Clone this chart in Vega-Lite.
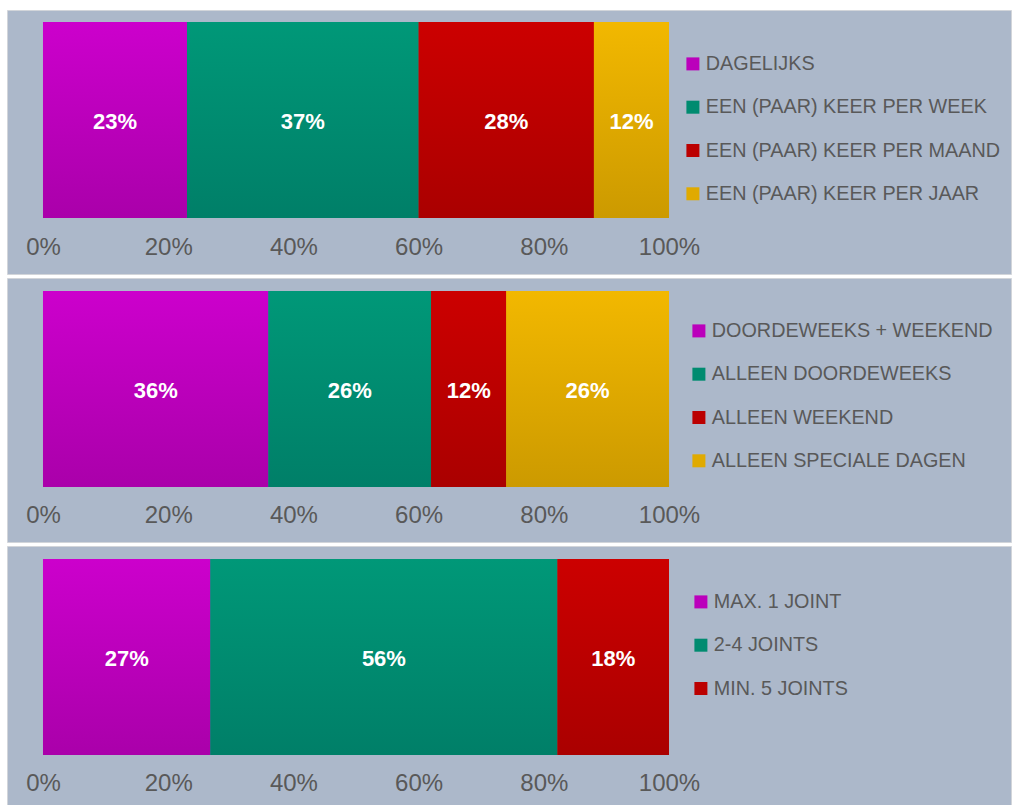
{
  "$schema": "https://vega.github.io/schema/vega-lite/v6.json",
  "background": "white",
  "padding": {"left": 6, "top": 9, "right": 0, "bottom": 0},
  "spacing": 4,
  "bounds": "flush",
  "resolve": {"scale": {"color": "independent"}, "legend": {"color": "independent"}},
  "config": {
    "font": "Liberation Sans",
    "view": {"fill": "#acb8ca", "stroke": "#d2d5da", "strokeWidth": 1},
    "axis": {"domain": false, "ticks": false, "grid": false, "tickSize": 0, "labelPadding": 0, "labelBaseline": "alphabetic", "offset": -20, "labelFontSize": 24, "labelColor": "#595959", "labelFont": "Liberation Sans", "title": null, "labelFlush": false, "labelOverlap": false},
    "legend": {"title": null, "orient": "none", "symbolType": "square", "symbolSize": 169, "symbolStrokeWidth": 0, "labelFontSize": 19.8, "labelColor": "#595959", "labelFont": "Liberation Sans", "labelOffset": 3, "rowPadding": 22.3, "padding": 0, "labelLimit": 500}
  },
  "vconcat": [
    {
      "width": 1004, "height": 264,
      "data": {"values": [
        {"c": "DAGELIJKS", "p": 0.23, "o": 1},
        {"c": "EEN (PAAR) KEER PER WEEK", "p": 0.37, "o": 2},
        {"c": "EEN (PAAR) KEER PER MAAND", "p": 0.28, "o": 3},
        {"c": "EEN (PAAR) KEER PER JAAR", "p": 0.12, "o": 4}
      ]},
      "transform": [
        {"stack": "p", "groupby": [], "sort": [{"field": "o", "order": "ascending"}], "offset": "normalize", "as": ["x0", "x1"]},
        {"calculate": "(datum.x0 + datum.x1) / 2", "as": "xm"}
      ],
      "encoding": {
        "y": {"datum": "bar", "type": "nominal", "axis": null, "scale": {"paddingInner": 0, "paddingOuter": 0.1735, "align": 0.176}},
        "x": {"field": "x0", "type": "quantitative", "scale": {"domain": [-0.0575, 1.5463], "nice": false, "zero": false}, "axis": {"values": [0, 0.2, 0.4, 0.6, 0.8, 1], "format": ".0%"}},
        "x2": {"field": "x1"}
      },
      "layer": [
        {
          "mark": {"type": "bar", "strokeWidth": 0},
          "encoding": {
            "color": {"field": "c", "type": "nominal",
              "scale": {"domain": ["DAGELIJKS", "EEN (PAAR) KEER PER WEEK", "EEN (PAAR) KEER PER MAAND", "EEN (PAAR) KEER PER JAAR"],
                "range": ["#bb00bb", "#008b70", "#bb0000", "#e0aa00"]},
              "legend": {"legendX": 676, "legendY": 44}
            }
          }
        },
        {
          "mark": {"type": "bar", "strokeWidth": 0},
          "encoding": {
            "fill": {
              "condition": [
                {"test": "datum.o === 1", "value": {"gradient": "linear", "x1": 0, "y1": 0, "x2": 0, "y2": 1, "stops": [{"offset": 0, "color": "#cc00cc"}, {"offset": 1, "color": "#aa00aa"}]}},
                {"test": "datum.o === 2", "value": {"gradient": "linear", "x1": 0, "y1": 0, "x2": 0, "y2": 1, "stops": [{"offset": 0, "color": "#009878"}, {"offset": 1, "color": "#007f68"}]}},
                {"test": "datum.o === 3", "value": {"gradient": "linear", "x1": 0, "y1": 0, "x2": 0, "y2": 1, "stops": [{"offset": 0, "color": "#cc0000"}, {"offset": 1, "color": "#aa0000"}]}}
              ],
              "value": {"gradient": "linear", "x1": 0, "y1": 0, "x2": 0, "y2": 1, "stops": [{"offset": 0, "color": "#f2b800"}, {"offset": 1, "color": "#cc9a00"}]}
            }
          }
        },
        {
          "mark": {"type": "text", "color": "white", "fontWeight": "bold", "fontSize": 22, "font": "Liberation Sans", "align": "center", "baseline": "middle", "dy": 2},
          "encoding": {
            "x": {"field": "xm", "type": "quantitative"},
            "x2": null,
            "text": {"field": "p", "type": "quantitative", "format": ".0%"}
          }
        }
      ]
    },
    {
      "width": 1004, "height": 264,
      "data": {"values": [
        {"c": "DOORDEWEEKS + WEEKEND", "p": 0.36, "o": 1},
        {"c": "ALLEEN DOORDEWEEKS", "p": 0.26, "o": 2},
        {"c": "ALLEEN WEEKEND", "p": 0.12, "o": 3},
        {"c": "ALLEEN SPECIALE DAGEN", "p": 0.26, "o": 4}
      ]},
      "transform": [
        {"stack": "p", "groupby": [], "sort": [{"field": "o", "order": "ascending"}], "offset": "normalize", "as": ["x0", "x1"]},
        {"calculate": "(datum.x0 + datum.x1) / 2", "as": "xm"}
      ],
      "encoding": {
        "y": {"datum": "bar", "type": "nominal", "axis": null, "scale": {"paddingInner": 0, "paddingOuter": 0.1735, "align": 0.19}},
        "x": {"field": "x0", "type": "quantitative", "scale": {"domain": [-0.0575, 1.5463], "nice": false, "zero": false}, "axis": {"values": [0, 0.2, 0.4, 0.6, 0.8, 1], "format": ".0%"}},
        "x2": {"field": "x1"}
      },
      "layer": [
        {
          "mark": {"type": "bar", "strokeWidth": 0},
          "encoding": {
            "color": {"field": "c", "type": "nominal",
              "scale": {"domain": ["DOORDEWEEKS + WEEKEND", "ALLEEN DOORDEWEEKS", "ALLEEN WEEKEND", "ALLEEN SPECIALE DAGEN"],
                "range": ["#bb00bb", "#008b70", "#bb0000", "#e0aa00"]},
              "legend": {"legendX": 682, "legendY": 43}
            }
          }
        },
        {
          "mark": {"type": "bar", "strokeWidth": 0},
          "encoding": {
            "fill": {
              "condition": [
                {"test": "datum.o === 1", "value": {"gradient": "linear", "x1": 0, "y1": 0, "x2": 0, "y2": 1, "stops": [{"offset": 0, "color": "#cc00cc"}, {"offset": 1, "color": "#aa00aa"}]}},
                {"test": "datum.o === 2", "value": {"gradient": "linear", "x1": 0, "y1": 0, "x2": 0, "y2": 1, "stops": [{"offset": 0, "color": "#009878"}, {"offset": 1, "color": "#007f68"}]}},
                {"test": "datum.o === 3", "value": {"gradient": "linear", "x1": 0, "y1": 0, "x2": 0, "y2": 1, "stops": [{"offset": 0, "color": "#cc0000"}, {"offset": 1, "color": "#aa0000"}]}}
              ],
              "value": {"gradient": "linear", "x1": 0, "y1": 0, "x2": 0, "y2": 1, "stops": [{"offset": 0, "color": "#f2b800"}, {"offset": 1, "color": "#cc9a00"}]}
            }
          }
        },
        {
          "mark": {"type": "text", "color": "white", "fontWeight": "bold", "fontSize": 22, "font": "Liberation Sans", "align": "center", "baseline": "middle", "dy": 2},
          "encoding": {
            "x": {"field": "xm", "type": "quantitative"},
            "x2": null,
            "text": {"field": "p", "type": "quantitative", "format": ".0%"}
          }
        }
      ]
    },
    {
      "width": 1004, "height": 264,
      "data": {"values": [
        {"c": "MAX. 1 JOINT", "p": 0.27, "o": 1},
        {"c": "2-4 JOINTS", "p": 0.56, "o": 2},
        {"c": "MIN. 5 JOINTS", "p": 0.18, "o": 3}
      ]},
      "transform": [
        {"stack": "p", "groupby": [], "sort": [{"field": "o", "order": "ascending"}], "offset": "normalize", "as": ["x0", "x1"]},
        {"calculate": "(datum.x0 + datum.x1) / 2", "as": "xm"}
      ],
      "encoding": {
        "y": {"datum": "bar", "type": "nominal", "axis": null, "scale": {"paddingInner": 0, "paddingOuter": 0.1735, "align": 0.19}},
        "x": {"field": "x0", "type": "quantitative", "scale": {"domain": [-0.0575, 1.5463], "nice": false, "zero": false}, "axis": {"values": [0, 0.2, 0.4, 0.6, 0.8, 1], "format": ".0%"}},
        "x2": {"field": "x1"}
      },
      "layer": [
        {
          "mark": {"type": "bar", "strokeWidth": 0},
          "encoding": {
            "color": {"field": "c", "type": "nominal",
              "scale": {"domain": ["MAX. 1 JOINT", "2-4 JOINTS", "MIN. 5 JOINTS"],
                "range": ["#bb00bb", "#008b70", "#bb0000"]},
              "legend": {"legendX": 684, "legendY": 46}
            }
          }
        },
        {
          "mark": {"type": "bar", "strokeWidth": 0},
          "encoding": {
            "fill": {
              "condition": [
                {"test": "datum.o === 1", "value": {"gradient": "linear", "x1": 0, "y1": 0, "x2": 0, "y2": 1, "stops": [{"offset": 0, "color": "#cc00cc"}, {"offset": 1, "color": "#aa00aa"}]}},
                {"test": "datum.o === 2", "value": {"gradient": "linear", "x1": 0, "y1": 0, "x2": 0, "y2": 1, "stops": [{"offset": 0, "color": "#009878"}, {"offset": 1, "color": "#007f68"}]}}
              ],
              "value": {"gradient": "linear", "x1": 0, "y1": 0, "x2": 0, "y2": 1, "stops": [{"offset": 0, "color": "#cc0000"}, {"offset": 1, "color": "#aa0000"}]}
            }
          }
        },
        {
          "mark": {"type": "text", "color": "white", "fontWeight": "bold", "fontSize": 22, "font": "Liberation Sans", "align": "center", "baseline": "middle", "dy": 2},
          "encoding": {
            "x": {"field": "xm", "type": "quantitative"},
            "x2": null,
            "text": {"field": "p", "type": "quantitative", "format": ".0%"}
          }
        }
      ]
    }
  ]
}
